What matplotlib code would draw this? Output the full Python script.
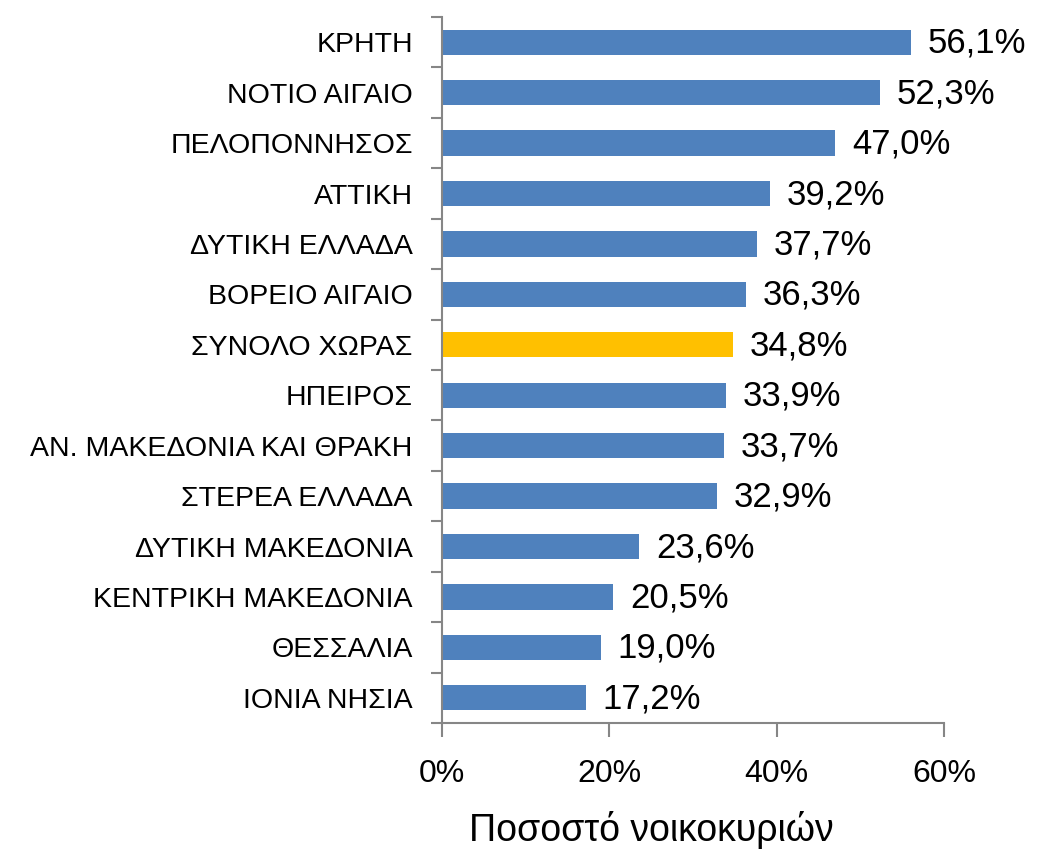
import matplotlib
matplotlib.use("Agg")
import matplotlib.pyplot as plt
from matplotlib.ticker import FuncFormatter, FixedLocator

plt.rcParams["font.family"] = ["Liberation Sans", "DejaVu Sans"]

# ---------------- Data ----------------
regions = [
    "ΚΡΗΤΗ", "ΝΟΤΙΟ ΑΙΓΑΙΟ", "ΠΕΛΟΠΟΝΝΗΣΟΣ", "ΑΤΤΙΚΗ", "ΔΥΤΙΚΗ ΕΛΛΑΔΑ",
    "ΒΟΡΕΙΟ ΑΙΓΑΙΟ", "ΣΥΝΟΛΟ ΧΩΡΑΣ", "ΗΠΕΙΡΟΣ", "ΑΝ. ΜΑΚΕΔΟΝΙΑ ΚΑΙ ΘΡΑΚΗ",
    "ΣΤΕΡΕΑ ΕΛΛΑΔΑ", "ΔΥΤΙΚΗ ΜΑΚΕΔΟΝΙΑ", "ΚΕΝΤΡΙΚΗ ΜΑΚΕΔΟΝΙΑ", "ΘΕΣΣΑΛΙΑ",
    "ΙΟΝΙΑ ΝΗΣΙΑ",
]
shares = [56.1, 52.3, 47.0, 39.2, 37.7, 36.3, 34.8, 33.9, 33.7, 32.9, 23.6, 20.5, 19.0, 17.2]
highlight = "ΣΥΝΟΛΟ ΧΩΡΑΣ"
x_ticks = [0, 20, 40, 60]

BLUE = "#4F81BD"
GOLD = "#FFC000"
GRID = "#868686"

# ---------------- Plot ----------------
fig = plt.figure(figsize=(10.38, 8.51), dpi=100)
ax = fig.add_axes([0.4258, 0.1504, 0.4836, 0.8296])

n = len(regions)
ypos = list(range(n))[::-1]
colors = [GOLD if r == highlight else BLUE for r in regions]
ax.barh(ypos, shares, height=0.5, color=colors, zorder=2)

for y, v in zip(ypos, shares):
    ax.text(v + 2.0, y - 0.02, f"{v:.1f}%".replace(".", ","), va="center", ha="left",
            fontsize=25, color="black")

ax.set_xlim(0, 60)
ax.set_ylim(-0.5, n - 0.5)
ax.xaxis.set_major_locator(FixedLocator(x_ticks))
ax.xaxis.set_major_formatter(FuncFormatter(lambda v, p: f"{v:.0f}%"))

# category labels at centers, ticks at boundaries
ax.set_yticks(ypos)
ax.set_yticklabels(regions, fontsize=20.5)
ax.set_yticks([i - 0.5 for i in range(n + 1)], minor=True)
ax.tick_params(axis="y", which="major", length=0, pad=21)
ax.tick_params(axis="y", which="minor", length=8, width=1.5, color=GRID)
ax.tick_params(axis="x", which="major", length=10, width=1.5, color=GRID,
               labelsize=23, pad=16)

for side in ("top", "right"):
    ax.spines[side].set_visible(False)
for side in ("left", "bottom"):
    ax.spines[side].set_color(GRID)
    ax.spines[side].set_linewidth(1.5)

ax.set_xlabel("Ποσοστό νοικοκυριών", fontsize=27, va="top")
ax.xaxis.set_label_coords(0.418, -0.125)

fig.savefig("out.png", dpi=100, facecolor="white")
plt.close(fig)
